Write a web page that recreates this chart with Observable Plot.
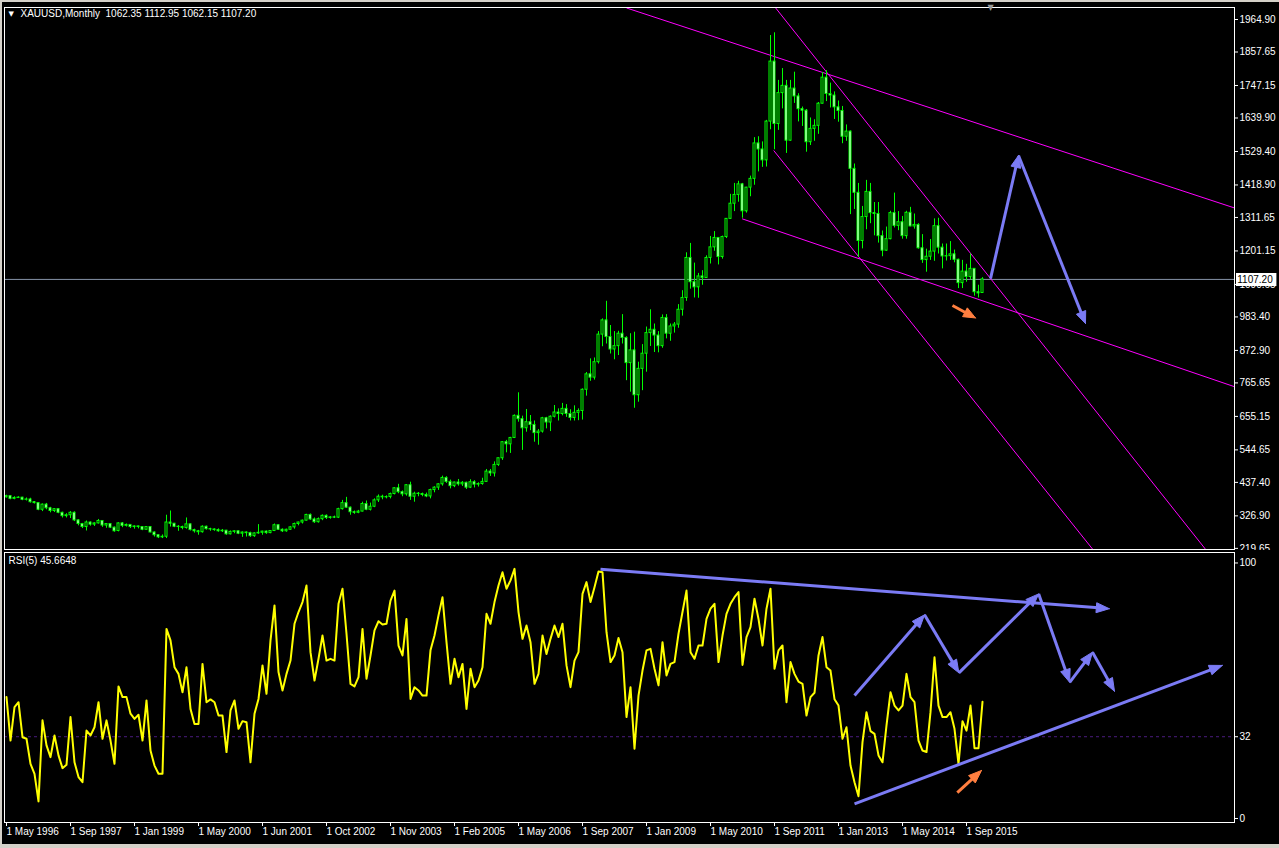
<!DOCTYPE html>
<html><head><meta charset="utf-8">
<script src="https://cdn.jsdelivr.net/npm/d3@7"></script>
<script src="https://cdn.jsdelivr.net/npm/@observablehq/plot@0.6"></script>
<style>
html,body{margin:0;padding:0;background:#000;width:1279px;height:848px;overflow:hidden;}
#wrap{position:relative;width:1279px;height:848px;background:#000;}
#price{position:absolute;left:0;top:0;}
#rsi{position:absolute;left:0;top:550px;}
.strip{position:absolute;background:#d4d0c8;}
svg{display:block}
</style></head><body>
<div id="wrap"><div id="price"></div><div id="rsi"></div>
<div class="strip" style="left:0;top:0;width:1279px;height:2px"></div>
<div class="strip" style="left:0;top:0;width:2px;height:848px"></div>
<div class="strip" style="left:0;top:844px;width:1279px;height:4px"></div>
</div>
<script>
// ---------- DATA (monthly XAUUSD bars, bar index 0 = May 1996) ----------
const open = [388,392,383,386,387,380,381,372,369,347,364,352,343,349,337,326,329,337,312,300,
290,305,298,302,310,295,300,288,277,302,294,297,290,292,290,281,290,272,263,256,
258,305,301,291,290,287,299,280,276,273,291,283,282,280,276,278,266,274,276,268,
272,270,260,269,271,275,270,277,296,281,276,281,289,300,305,311,330,315,306,316,
327,320,322,321,349,369,354,339,337,341,366,347,357,378,390,388,389,399,418,405,
398,428,390,400,399,396,391,412,420,431,452,439,425,437,431,436,420,438,430,432,
439,473,467,495,517,570,563,584,657,646,616,636,627,600,605,649,635,654,668,663,
680,663,650,667,673,743,794,783,834,925,972,917,876,887,928,914,831,873,725,812,
862,930,941,922,887,980,928,952,958,1007,1046,1178,1098,1081,1117,1112,1178,1213,1244,1181,
1247,1307,1357,1386,1421,1332,1410,1439,1556,1536,1500,1628,1826,1620,1722,1746,1565,1737,1711,1669,
1664,1560,1604,1614,1687,1773,1719,1714,1675,1663,1578,1595,1472,1393,1234,1313,1396,1326,1323,1250,
1202,1240,1326,1284,1296,1250,1327,1282,1287,1210,1171,1182,1199,1283,1212,1183,1184,1190,1172,1095,
1133,1115,1142,1065,1062.35];
const high = [395,393,390,390,388,386,385,374,370,366,368,355,351,350,339,334,341,340,314,302,
310,307,304,315,311,300,301,290,304,305,300,298,294,293,291,291,291,274,264,264,
329,343,302,295,293,320,300,283,279,294,293,286,284,284,282,279,277,278,277,274,
274,273,271,298,276,277,278,300,297,284,283,292,303,306,313,332,333,320,320,330,
330,325,326,352,378,388,356,343,345,372,376,369,383,396,395,393,402,420,431,409,
430,438,405,404,402,402,415,423,433,458,456,445,438,447,440,438,446,443,436,451,
480,480,505,518,572,576,586,660,733,656,678,658,640,612,652,652,657,691,680,698,
694,677,690,680,746,800,845,848,935,977,1035,955,935,936,991,918,928,933,834,892,
950,1007,960,935,990,991,960,965,1024,1070,1195,1226,1161,1127,1136,1185,1249,1265,1245,1250,
1308,1388,1424,1431,1424,1411,1448,1575,1578,1561,1632,1912,1921,1764,1803,1764,1764,1791,1720,1676,
1668,1640,1634,1691,1790,1796,1755,1726,1696,1678,1617,1597,1488,1424,1348,1434,1424,1361,1361,1267,
1280,1332,1392,1331,1315,1332,1345,1323,1291,1255,1207,1239,1307,1309,1224,1224,1232,1204,1174,1170,
1157,1191,1142,1088,1112.95];
const low = [386,380,380,384,377,376,369,366,344,341,347,337,338,334,320,320,318,308,294,285,
277,293,292,300,289,286,285,273,274,288,290,285,283,284,278,280,271,257,252,252,
252,290,288,276,281,283,277,270,263,270,280,276,276,273,272,263,264,268,265,256,
257,256,256,266,263,266,268,275,279,272,273,279,283,294,300,310,312,302,303,311,
315,316,318,318,346,352,329,332,334,340,344,343,354,371,380,383,383,396,400,390,
392,378,372,390,390,387,383,403,411,425,434,416,420,425,424,414,417,419,422,428,
438,457,455,490,510,535,533,582,636,543,603,608,570,560,600,614,605,650,640,657,
652,640,640,641,643,722,771,775,828,885,894,861,842,856,894,773,735,682,702,740,
801,886,866,865,880,911,903,930,946,986,1035,1075,1046,1045,1088,1112,1158,1200,1155,1174,
1242,1305,1331,1362,1309,1326,1380,1418,1462,1477,1478,1601,1535,1599,1670,1523,1563,1688,1627,1612,
1527,1549,1563,1586,1686,1694,1673,1635,1626,1555,1563,1321,1338,1180,1208,1271,1291,1251,1227,1182,
1200,1238,1277,1268,1240,1240,1281,1273,1207,1160,1131,1170,1167,1191,1142,1168,1170,1162,1077,1077,
1098,1106,1052,1046,1062.15];
const close = [392,383,386,387,380,381,372,369,347,364,352,343,349,337,326,329,337,312,300,290,
305,298,302,310,295,300,288,276,302,294,297,290,292,290,281,290,272,263,256,258,
305,301,291,290,287,299,280,276,273,291,283,282,280,276,278,266,274,276,268,272,
270,260,269,271,275,270,277,296,281,276,281,289,300,305,311,330,315,306,316,327,
320,322,321,349,369,354,339,337,341,366,347,357,378,390,388,389,399,418,405,398,
428,390,400,399,396,391,412,420,431,452,439,425,437,431,436,420,438,430,432,439,
473,467,495,517,570,563,584,657,646,616,636,627,600,605,649,635,654,668,663,680,
663,650,667,673,743,794,783,834,925,972,917,876,887,928,914,831,873,725,812,862,
930,941,922,887,980,928,952,958,1007,1046,1178,1098,1081,1117,1112,1178,1213,1244,1181,1247,
1307,1357,1386,1421,1332,1410,1439,1556,1536,1500,1628,1826,1620,1722,1746,1565,1737,1711,1669,1664,
1560,1604,1614,1687,1773,1719,1714,1675,1663,1578,1595,1472,1393,1234,1313,1396,1326,1323,1250,1202,
1240,1326,1284,1296,1250,1327,1282,1287,1210,1171,1182,1199,1283,1212,1183,1184,1190,1172,1095,1133,
1115,1142,1065,1061,1107.20];
const rsi = [47.5,30.5,43.6,45.5,31.8,31.2,21.4,17.5,6.7,38.4,
28.6,24.0,32.5,24.7,19.7,21.0,39.7,22.0,16.2,14.2,
34.4,32.5,35.7,45.5,31.2,38.4,30.5,21.4,51.7,47.5,
47.5,41.0,39.0,40.6,30.5,46.2,26.6,20.7,17.5,17.5,
74.2,69.7,59.2,56.6,49.4,59.2,42.9,37.0,37.0,60.5,
45.5,46.6,45.5,40.3,40.3,26.0,42.3,46.2,35.1,38.1,
37.7,22.0,41.0,46.8,59.9,48.8,69.7,83.4,57.3,50.1,
56.6,61.8,76.2,80.8,84.7,91.2,65.1,54.0,62.5,71.6,
61.8,62.5,61.8,84.0,89.9,72.3,52.7,51.7,55.3,74.2,
54.7,63.8,73.6,77.2,75.9,76.2,85.3,89.2,67.7,63.8,
78.1,46.8,51.4,50.1,48.1,48.1,65.8,71.6,79.5,86.6,
69.0,52.7,62.5,55.3,60.5,42.9,58.6,51.4,54.0,59.2,
80.1,76.2,84.7,91.2,96.4,89.9,93.2,97.7,80.8,70.3,
75.5,69.0,52.7,56.6,71.6,64.4,70.3,75.5,71.0,76.2,
59.9,51.4,61.8,65.1,87.9,92.5,84.7,90.5,96.7,96.4,
72.9,61.2,63.8,70.6,65.1,39.7,51.4,27.3,48.1,57.9,
65.8,66.4,58.6,52.1,69.0,56.0,60.5,61.2,72.3,80.8,
89.2,65.1,62.5,67.7,67.7,78.1,82.1,84.0,61.2,71.6,
80.1,84.0,86.6,88.6,60.1,71.0,74.9,86.0,78.1,67.7,
82.1,89.9,58.6,65.8,67.7,45.5,61.2,56.6,53.6,52.7,
40.3,47.5,49.2,63.8,71.0,59.2,57.9,46.7,44.2,31.2,
35.7,20.7,14.2,8.7,29.9,41.6,34.2,33.1,24.7,22.0,
36.4,49.4,44.2,42.3,44.2,56.6,47.5,45.5,30.5,26.6,
26.0,41.6,63.1,44.2,39.7,39.7,41.6,35.1,21.4,38.1,
34.4,44.2,27.5,27.5,45.6648];
const dateTicks = [0,16,32,48,64,80,96,112,128,144,160,176,192,208,224,240];
const dateLabels = ["1 May 1996","1 Sep 1997","1 Jan 1999","1 May 2000","1 Jun 2001","1 Oct 2002","1 Nov 2003","1 Feb 2005","1 May 2006","1 Sep 2007","1 Jan 2009","1 May 2010","1 Sep 2011","1 Jan 2013","1 May 2014","1 Sep 2015"];
const priceTicks = [1964.90,1857.65,1747.15,1639.90,1529.40,1418.90,1311.65,1201.15,1090.65,983.40,872.90,765.65,655.15,544.65,437.40,326.90,219.65];
const rsiTicks = [100,32,0];
const rsiLevel = 32;
// drawn trend lines (bar index, price)
const channelLines = [
  {x1:155, y1:2003, x2:307, y2:1343},
  {x1:192.2, y1:2004.5, x2:299.8, y2:215.9},
  {x1:191.8, y1:1532.6, x2:271.6, y2:215.9},
  {x1:183.9, y1:1307.2, x2:307, y2:753.1}
];
// drawn arrows on price (bar index, price)
const priceArrows = [
  {x1:246, y1:1110, x2:253, y2:1516, c:"blue"},
  {x1:253, y1:1516, x2:269.75, y2:961.7, c:"blue"},
  {x1:236.5, y1:1021, x2:242.25, y2:980, c:"orange"}
];
// drawn arrows on RSI (bar index, RSI value)
const rsiArrows = [
  {x1:148.5, y1:97.5, x2:275.7, y2:82.1, c:"blue"},
  {x1:212, y1:48.1, x2:229.5, y2:79.7, c:"blue"},
  {x1:229.5, y1:79.7, x2:238.1, y2:57.0, c:"blue"},
  {x1:238.1, y1:57.0, x2:258.05, y2:87.9, c:"blue"},
  {x1:258.05, y1:87.9, x2:265.8, y2:53.3, c:"blue"},
  {x1:265.8, y1:53.3, x2:271.5, y2:65.1, c:"blue"},
  {x1:271.5, y1:65.1, x2:277, y2:49.8, c:"blue"},
  {x1:212, y1:5.75, x2:303.95, y2:59.9, c:"blue"},
  {x1:237.7, y1:10.1, x2:243.75, y2:18.8, c:"orange"}
];

// ---------- STYLE ----------
const FONT = "'Liberation Sans', Arial, sans-serif";
const COLORS = {blue:"#7b7bf5", orange:"#ff7f40"};
const LIME = "#00ff00", MAGENTA = "#ff00ff", SLATE = "#8593a8", YELLOW = "#ffff00";
const X_DOMAIN = [-0.5, 307];
const N = close.length;
const candles = close.map((c, i) => ({i, o: open[i], h: high[i], l: low[i], c}));
const bull = candles.filter(d => d.c >= d.o), bear = candles.filter(d => d.c < d.o);
const rsiData = rsi.map((v, i) => ({i, v}));
const baseStyle = {background: "black", color: "white", fontFamily: FONT, fontSize: "10px", overflow: "visible"};

function scaleFns(fig, name) {
  const s = fig.scale(name);
  const lin = d3.scaleLinear(s.domain, s.range);
  return {f: v => lin(v), inv: p => lin.invert(p)};
}
function arrowParts(arrows, fig, len, half) {
  const sx = scaleFns(fig, "x"), sy = scaleFns(fig, "y");
  const heads = [], shafts = [];
  arrows.forEach((a, k) => {
    const X1 = sx.f(a.x1), Y1 = sy.f(a.y1), X2 = sx.f(a.x2), Y2 = sy.f(a.y2);
    const dx = X2 - X1, dy = Y2 - Y1, L = Math.hypot(dx, dy);
    const ux = dx / L, uy = dy / L, nx = -uy, ny = ux;
    const bx = X2 - ux * len, by = Y2 - uy * len;
    [[X2, Y2], [bx + nx * half, by + ny * half], [bx - nx * half, by - ny * half], [X2, Y2]]
      .forEach(([px, py]) => heads.push({k, c: a.c, x: sx.inv(px), y: sy.inv(py)}));
    shafts.push({c: a.c, x1: a.x1, y1: a.y1, x2: sx.inv(bx + ux * 2), y2: sy.inv(by + uy * 2)});
  });
  return {heads, shafts};
}
function arrowMarks(parts) {
  const marks = [];
  for (const c of ["blue", "orange"]) {
    marks.push(Plot.link(parts.shafts.filter(d => d.c === c), {x1: "x1", y1: "y1", x2: "x2", y2: "y2", stroke: COLORS[c], strokeWidth: 3}));
    marks.push(Plot.line(parts.heads.filter(d => d.c === c), {x: "x", y: "y", z: "k", fill: COLORS[c], stroke: COLORS[c], strokeWidth: 1}));
  }
  return marks;
}

// ---------- PRICE PANEL ----------
const priceOpts = {
  width: 1279, height: 550, marginLeft: 4, marginRight: 45, marginTop: 7, marginBottom: 1,
  x: {domain: X_DOMAIN},
  y: {domain: [215.9, 2004.5]},
  style: baseStyle
};
const priceBase = Plot.plot({...priceOpts, marks: [Plot.frame()]});
const pParts = arrowParts(priceArrows, priceBase, 12, 5);
const last = candles[N - 1];
const title = `XAUUSD,Monthly  ${last.o.toFixed(2)} ${last.h.toFixed(2)} ${last.l.toFixed(2)} ${last.c.toFixed(2)}`;
const price = Plot.plot({
  ...priceOpts,
  marks: [
    Plot.ruleY([last.c], {stroke: SLATE, strokeWidth: 1}),
    Plot.link(channelLines, {x1: "x1", y1: "y1", x2: "x2", y2: "y2", stroke: MAGENTA, strokeWidth: 1}),
    Plot.ruleX(candles, {x: "i", y1: "l", y2: "h", stroke: LIME, strokeWidth: 1}),
    Plot.rect(bull, {x1: d => d.i - 0.25, x2: d => d.i + 0.25, y1: "o", y2: "c", fill: "black", stroke: LIME, strokeWidth: 1}),
    Plot.rect(bear, {x1: d => d.i - 0.25, x2: d => d.i + 0.25, y1: "o", y2: "c", fill: "white", stroke: LIME, strokeWidth: 1}),
    ...arrowMarks(pParts),
    Plot.frame({stroke: "white"}),
    Plot.axisY(priceTicks, {anchor: "right", tickSize: 3, tickPadding: 2, tickFormat: d => d.toFixed(2), label: null}),
    Plot.ruleY([last.c], {x1: 307.5, x2: 317.6, stroke: "white", strokeWidth: 13}),
    Plot.text([last.c], {x: 307.7, y: d => d, text: d => d.toFixed(2), textAnchor: "start", fill: "black"}),
    Plot.text(["\u25BC"], {frameAnchor: "top-left", dx: 4, dy: 4, fontSize: 7, fontFamily: "DejaVu Sans", fill: "white"}),
    Plot.text([title], {frameAnchor: "top-left", dx: 16, dy: 2, fill: "white"}),
    Plot.text(["\u25BC"], {x: N + 1, frameAnchor: "top", dy: -3, fontSize: 8, fontFamily: "DejaVu Sans", fill: "#9a9a9a"})
  ]
});
document.getElementById("price").appendChild(price);

// ---------- RSI PANEL ----------
const rsiOpts = {
  width: 1279, height: 298, marginLeft: 4, marginRight: 45, marginTop: 2, marginBottom: 26,
  x: {domain: X_DOMAIN},
  y: {domain: [-1.57, 104.1]},
  style: baseStyle
};
const rsiBase = Plot.plot({...rsiOpts, marks: [Plot.frame()]});
const rParts = arrowParts(rsiArrows, rsiBase, 13, 5);
const rsiChart = Plot.plot({
  ...rsiOpts,
  marks: [
    Plot.ruleY([rsiLevel], {stroke: "#4b1c7f", strokeDasharray: "3,3"}),
    Plot.line(rsiData, {x: "i", y: "v", stroke: YELLOW, strokeWidth: 2}),
    ...arrowMarks(rParts),
    Plot.frame({stroke: "white"}),
    Plot.axisY(rsiTicks, {anchor: "right", tickSize: 3, tickPadding: 2, tickFormat: d => String(d), label: null}),
    Plot.axisX(dateTicks, {anchor: "bottom", tickSize: 4, tickPadding: 1, textAnchor: "start", tickFormat: d => dateLabels[dateTicks.indexOf(d)], label: null}),
    Plot.text([`RSI(5) ${rsi[N - 1]}`], {frameAnchor: "top-left", dx: 4, dy: 4, fill: "white"})
  ]
});
document.getElementById("rsi").appendChild(rsiChart);
</script>
</body></html>
